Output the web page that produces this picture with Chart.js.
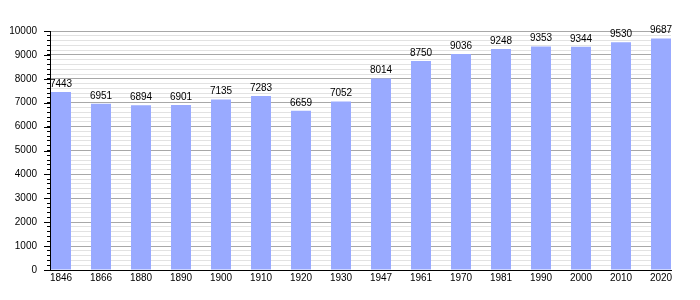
<!DOCTYPE html>
<html>
<head>
<meta charset="utf-8">
<script src="https://cdn.jsdelivr.net/npm/chart.js@4/dist/chart.umd.min.js"></script>
<style>
html,body{margin:0;padding:0;background:#fff;}
#wrap{width:700px;height:300px;position:relative;}
</style>
</head>
<body>
<div id="wrap"><canvas id="c" width="700" height="300"></canvas></div>
<script>
const years = ["1846","1866","1880","1890","1900","1910","1920","1930","1947","1961","1970","1981","1990","2000","2010","2020"];
const population = [7443,6951,6894,6901,7135,7283,6659,7052,8014,8750,9036,9248,9353,9344,9530,9687];
const yTickStep = 200;
const yLabelStep = 1000;
const yMax = 10000;

const FONT = "'Liberation Sans', Arial, sans-serif";

const valueLabels = {
  id: 'valueLabels',
  afterDatasetsDraw(chart) {
    const ctx = chart.ctx;
    const meta = chart.getDatasetMeta(0);
    ctx.save();
    ctx.font = "10px " + FONT;
    ctx.fillStyle = '#000';
    ctx.textAlign = 'center';
    ctx.textBaseline = 'alphabetic';
    meta.data.forEach((bar, i) => {
      ctx.fillText(String(population[i]), bar.x, bar.y - 5);
    });
    ctx.restore();
  }
};

const majorTicks = {
  id: 'majorTicks',
  afterDraw(chart) {
    const y = chart.scales.y;
    const ctx = chart.ctx;
    ctx.save();
    ctx.strokeStyle = '#000';
    ctx.lineWidth = 1;
    ctx.beginPath();
    for (let v = 0; v <= yMax; v += yLabelStep) {
      const py = Math.round(y.getPixelForValue(v)) + 0.5;
      ctx.moveTo(y.right - 6, py);
      ctx.lineTo(y.right, py);
    }
    ctx.stroke();
    ctx.restore();
  }
};

new Chart(document.getElementById('c'), {
  type: 'bar',
  data: {
    datasets: [{
      data: population.map((v, i) => ({x: i, y: v})),
      backgroundColor: 'rgb(153,170,255)',
      borderWidth: 0,
      barPercentage: 0.5,
      categoryPercentage: 1.0
    }]
  },
  options: {
    responsive: false,
    animation: false,
    devicePixelRatio: 1,
    layout: { padding: { top: 31, right: 29, left: 0, bottom: 0 } },
    plugins: { legend: { display: false }, tooltip: { enabled: false } },
    scales: {
      x: {
        type: 'linear',
        offset: false,
        min: -0.275,
        max: 15.25,
        afterBuildTicks: s => { s.ticks = years.map((_, i) => ({value: i})); },
        afterFit: s => { s.height = 30; },
        grid: { display: false, drawTicks: false, offset: false },
        border: { display: true, color: '#000', width: 1 },
        ticks: {
          autoSkip: false,
          maxRotation: 0,
          padding: 2,
          color: '#000',
          font: { size: 10, family: FONT },
          callback: v => years[v]
        }
      },
      y: {
        min: 0,
        max: yMax,
        afterFit: s => { s.width = 50; },
        border: { display: true, color: '#000', width: 1 },
        grid: {
          color: c => (c.tick && c.tick.value % yLabelStep === 0) ? '#a8a8a8' : '#e2e2e2',
          tickColor: '#000',
          tickLength: 3,
          drawTicks: true
        },
        ticks: {
          stepSize: yTickStep,
          autoSkip: false,
          padding: 10,
          color: '#000',
          font: { size: 10, family: FONT },
          callback: v => (v % yLabelStep === 0 ? String(v) : '')
        }
      }
    }
  },
  plugins: [valueLabels, majorTicks]
});
</script>
</body>
</html>
